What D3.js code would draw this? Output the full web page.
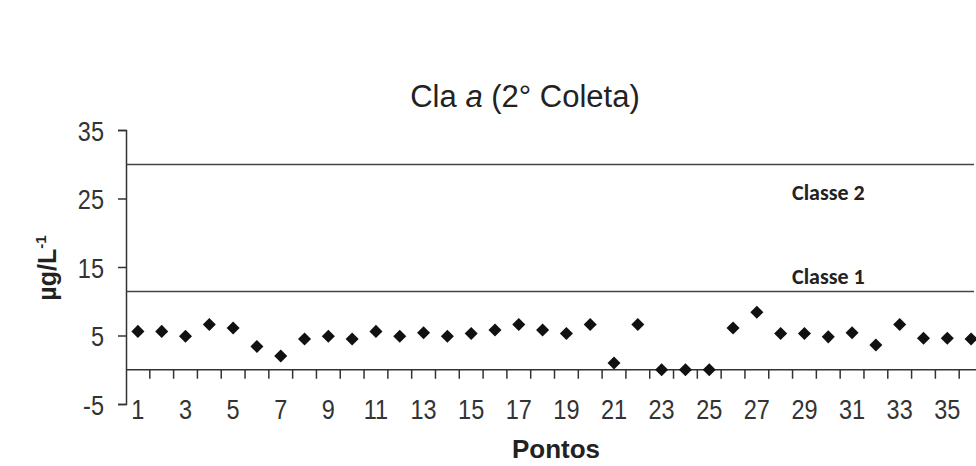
<!DOCTYPE html>
<html>
<head>
<meta charset="utf-8">
<script src="https://cdn.jsdelivr.net/npm/d3@7"></script>
<style>
  html, body { margin: 0; padding: 0; background: #ffffff; }
  svg { display: block; }
</style>
</head>
<body>
<script>
// ---- data ----
const pontos = d3.range(1, 37);
const clorofila = [5.6, 5.6, 4.9, 6.6, 6.1, 3.4, 2.0, 4.5, 4.9, 4.5,
                   5.6, 4.9, 5.4, 4.9, 5.3, 5.8, 6.6, 5.8, 5.3, 6.6,
                   1.0, 6.6, 0.0, 0.0, 0.0, 6.1, 8.4, 5.3, 5.3, 4.8,
                   5.4, 3.6, 6.6, 4.6, 4.6, 4.5];
const yTicks = [-5, 5, 15, 25, 35];
const xLabels = pontos.filter(d => d % 2 === 1);
const classes = [{ nome: "Classe 1", valor: 11.5 }, { nome: "Classe 2", valor: 30 }];
const titulo = "Cla ";
const tituloItalico = "a";
const tituloFim = " (2° Coleta)";

// ---- layout ----
const W = 976, H = 466;
const left = 126, plotRight = 983, lineRight = 974;
const sans = "'Liberation Sans', Arial, sans-serif";
const squeeze = 0.84;

const svg = d3.select("body").append("svg").attr("width", W).attr("height", H);
svg.append("rect").attr("width", W).attr("height", H).attr("fill", "#ffffff");

const y = d3.scaleLinear().domain([-5, 35]).range([404, 130]);
const x = d3.scaleBand().domain(pontos).range([left, plotRight]).padding(0);
const cx = d => x(d) + x.bandwidth() / 2;

// title
const t = svg.append("text").attr("x", 525).attr("y", 107)
  .attr("text-anchor", "middle").attr("font-family", sans)
  .attr("font-size", 31).attr("fill", "#222");
t.append("tspan").text(titulo);
t.append("tspan").attr("font-style", "italic").text(tituloItalico);
t.append("tspan").text(tituloFim);

// class lines
svg.selectAll("line.classe").data(classes).enter().append("line")
  .attr("x1", left).attr("x2", lineRight)
  .attr("y1", d => Math.round(y(d.valor)) + 0.5).attr("y2", d => Math.round(y(d.valor)) + 0.5)
  .attr("stroke", "#444").attr("stroke-width", 1.5);
svg.selectAll("text.classe").data(classes).enter().append("text")
  .attr("x", 792).attr("y", d => y(d.valor) - (d.valor > 20 ? -36 : 7))
  .attr("font-family", "Carlito, Lato, sans-serif").attr("font-weight", "bold")
  .attr("font-size", 22).attr("fill", "#222").text(d => d.nome);

// y axis
const yAxis = svg.append("g").attr("transform", `translate(${left},0)`)
  .call(d3.axisLeft(y).tickValues(yTicks).tickSize(8).tickPadding(14).tickFormat(d3.format("d")));
yAxis.select(".domain").attr("stroke", "#333").attr("stroke-width", 1.5);
yAxis.selectAll(".tick line").attr("stroke", "#333").attr("stroke-width", 1.5);
yAxis.selectAll(".tick text").attr("font-family", sans).attr("font-size", 28)
  .attr("fill", "#333").attr("dy", "0.36em").attr("x", 0)
  .attr("transform", `translate(-22,0) scale(${squeeze},1)`)
  .text(d => d < 0 ? "-" + Math.abs(d) : d);

// x axis at zero
const y0 = y(0);
const xAxis = svg.append("g").attr("transform", `translate(0,${y0})`);
xAxis.append("line").attr("x1", left).attr("x2", W).attr("stroke", "#333").attr("stroke-width", 1.5);
xAxis.selectAll("line.tk").data(pontos.slice(1)).enter().append("line")
  .attr("x1", d => x(d)).attr("x2", d => x(d)).attr("y1", 0).attr("y2", 9)
  .attr("stroke", "#333").attr("stroke-width", 1.5);
svg.selectAll("text.xl").data(xLabels).enter().append("text")
  .attr("transform", d => `translate(${cx(d)},419) scale(${squeeze},1)`)
  .attr("text-anchor", "middle")
  .attr("font-family", sans).attr("font-size", 28).attr("fill", "#333").text(d => d);

// axis titles
svg.append("text").attr("x", 556).attr("y", 458).attr("text-anchor", "middle")
  .attr("font-family", sans).attr("font-weight", "bold").attr("font-size", 26)
  .attr("fill", "#222").text("Pontos");
const yl = svg.append("text").attr("transform", "translate(56,268) rotate(-90)")
  .attr("text-anchor", "middle").attr("font-family", sans).attr("font-weight", "bold")
  .attr("font-size", 25).attr("fill", "#222");
yl.append("tspan").text("µg/L");
yl.append("tspan").attr("dy", -10).attr("font-size", 15).text("-1");

// points
svg.selectAll("path.pt").data(pontos).enter().append("path")
  .attr("d", d3.symbol(d3.symbolSquare, 85))
  .attr("transform", (d, i) => `translate(${cx(d)},${y(clorofila[i])}) rotate(45)`)
  .attr("fill", "#111");
</script>
</body>
</html>
